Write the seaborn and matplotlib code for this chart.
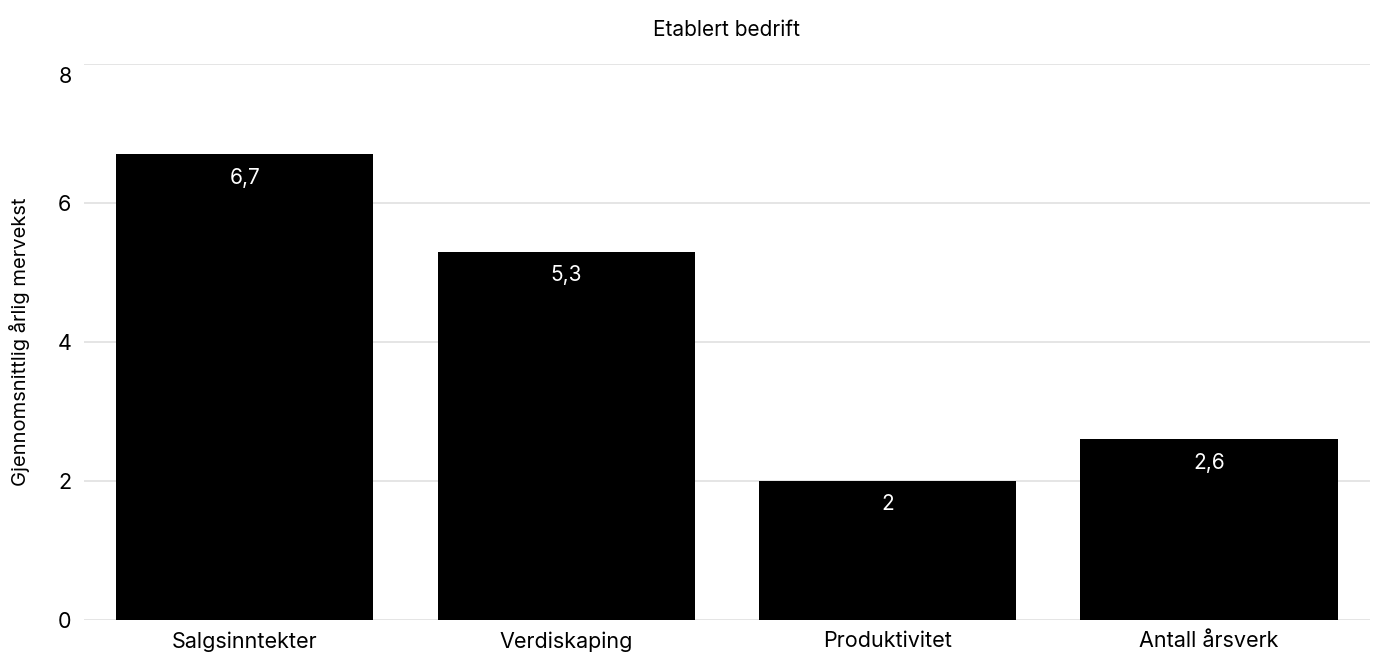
import matplotlib
matplotlib.use("Agg")
import matplotlib.pyplot as plt
import matplotlib.transforms as mtransforms
import seaborn as sns
import pandas as pd

categories = ["Salgsinntekter", "Verdiskaping", "Produktivitet", "Antall årsverk"]
values = [6.7, 5.3, 2.0, 2.6]
value_labels = ["6,7", "5,3", "2", "2,6"]
y_ticks = [0, 2, 4, 6, 8]
title = "Etablert bedrift"
y_label = "Gjennomsnittlig årlig mervekst"

sns.set_theme(style="white")
plt.rcParams["font.family"] = ["Inter", "DejaVu Sans"]
plt.rcParams["text.color"] = "black"
plt.rcParams["axes.labelcolor"] = "black"

df = pd.DataFrame({"kategori": categories, "verdi": values})

fig = plt.figure(figsize=(13.78, 6.52), dpi=100)
ax = fig.add_axes([0.061, 0.049, 0.933, 0.853])

sns.barplot(data=df, x="kategori", y="verdi", color="black", width=0.8,
            saturation=1, ax=ax, zorder=3)
for p in ax.patches:
    p.set_edgecolor("none")

ax.set_ylim(0, 8)
ax.set_xlim(-0.5, len(categories) - 0.5)
ax.set_yticks(y_ticks)
ax.set_yticklabels([str(t) for t in y_ticks])
ax.yaxis.grid(True, color="#e0e0e0", linewidth=1.2, zorder=0)
ax.set_axisbelow(True)
for s in ax.spines.values():
    s.set_visible(False)
ax.tick_params(axis="both", length=0, labelsize=15.5, colors="black")
ax.tick_params(axis="y", pad=9)
ax.tick_params(axis="x", pad=8)
ax.set_xlabel("")
ax.set_ylabel(y_label, fontsize=14.5, labelpad=20, color="black")
ax.set_title(title, fontsize=15, pad=20, color="black")

# top tick label sits slightly below its gridline in the reference
top_lbl = ax.get_yticklabels()[-1]
top_lbl.set_transform(top_lbl.get_transform() +
                      mtransforms.ScaledTranslation(0, -11 / 100, fig.dpi_scale_trans))

ax.bar_label(ax.containers[0], labels=value_labels, label_type="edge",
             padding=-24, color="white", fontsize=15)

fig.savefig("out.png", dpi=100)
